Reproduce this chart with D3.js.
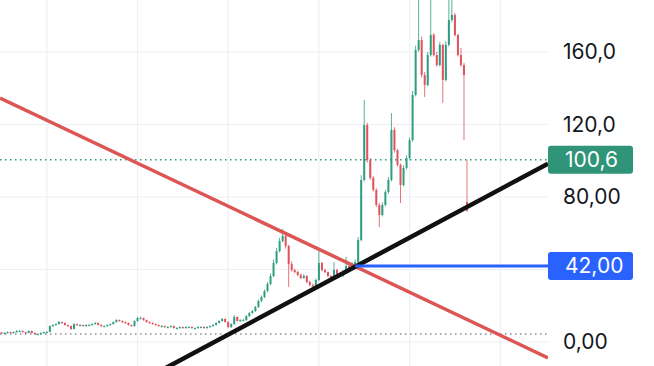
<!DOCTYPE html>
<html>
<head>
<meta charset="utf-8">
<script src="https://cdn.jsdelivr.net/npm/d3@7"></script>
<style>
  html, body { margin: 0; padding: 0; background: #fff; }
  svg { display: block; font-family: Inter, "Noto Sans", sans-serif; }
</style>
</head>
<body>
<div class="chart"></div>
<script>
// chart size
var width = 654;
var height = 366;
var plotRight = 548;

// candles, one per index
var opens = [5.3,5.0,5.0,5.5,5.0,5.5,6.1,6.1,5.5,5.0, 6.1,5.0,4.4,4.4,5.0,5.5,5.6,8.8,9.4,9.9,
  11.0,10.5,9.4,8.8,7.2,9.9,9.4,9.4,8.8,9.4, 9.4,9.9,10.5,9.4,8.8,8.8,9.4,9.9,11.0,12.1,
  11.6,11.0,10.5,9.4,8.8,11.6,13.2,13.2,12.1,11.0, 10.5,9.9,9.4,8.8,8.8,8.3,8.3,8.8,7.7,7.7,
  8.3,7.7,8.3,8.3,7.7,7.7,8.3,8.3,7.7,8.3, 8.8,9.4,10.5,11.6,12.7,11.0,8.3,9.9,13.8,11.6,
  12.1,12.1,14.3,16.0,17.1,19.3,22.6,24.8,28.1,32.0, 36.4,43.6,50.2,55.7,58.5,53.0,43.0,39.7,38.6,37.0,
  35.3,36.4,33.1,31.4,30.9,34.2,43.6,39.7,38.6,36.4, 35.3,39.7,37.5,36.4,38.6,41.9,40.8,43.0,44.1,56.3,
  89.4,119.7,100.4,90.5,83.9,75.6,70.1,75.6,82.8,89.4, 117.0,105.9,97.7,86.6,96.0,101.5,111.4,136.3,161.1,166.6,
  147.3,141.8,158.3,169.4,158.3,152.8,163.9,144.6,163.9,177.7, 180.4,169.4,158.3,152.8,77.2];

var closes = [5.0,5.0,5.5,5.0,5.5,6.1,6.1,5.5,5.0,6.1, 5.0,4.4,4.4,5.0,5.5,5.5,8.8,9.4,9.9,11.0,
  10.5,9.4,8.8,7.2,9.9,9.4,9.4,8.8,9.4,9.4, 9.9,10.5,9.4,8.8,8.8,9.4,9.9,11.0,12.1,11.6,
  11.0,10.5,9.4,8.8,11.6,13.2,13.2,12.1,11.0,10.5, 9.9,9.4,8.8,8.8,8.3,8.3,8.8,7.7,7.7,8.3,
  7.7,8.3,8.3,7.7,7.7,8.3,8.3,7.7,8.3,8.8, 9.4,10.5,11.6,12.7,11.0,8.3,9.9,13.8,11.6,12.1,
  12.1,14.3,16.0,17.1,19.3,22.6,24.8,28.1,32.0,36.4, 43.6,50.2,55.7,58.5,53.0,43.0,39.7,38.6,37.0,35.3,
  36.4,33.1,31.4,30.9,34.2,43.6,39.7,38.6,36.4,35.3, 39.7,37.5,36.4,38.6,41.9,40.8,43.0,44.1,56.3,89.4,
  119.7,100.4,90.5,83.9,75.6,70.1,75.6,82.8,89.4,117.0, 105.9,97.7,86.6,96.0,101.5,111.4,136.3,161.1,166.6,147.3,
  141.8,158.3,169.4,158.3,152.8,163.9,144.6,163.9,177.7,180.4, 169.4,158.3,152.8,147.3,72.5];

var highs = [5.6,5.4,5.8,5.7,5.8,6.5,6.5,6.3,5.6,6.4, 6.3,5.3,4.8,5.3,5.8,5.9,9.2,9.8,10.3,11.6,
  11.3,10.8,9.6,9.1,10.3,10.1,9.8,9.6,9.8,9.9, 10.3,10.9,10.8,9.7,9.2,9.7,10.2,11.4,12.6,12.4,
  11.9,11.4,10.8,9.6,11.9,13.8,14.0,13.5,12.4,11.4, 10.9,10.2,9.6,9.3,9.1,8.7,9.2,9.1,8.2,8.6,
  8.5,8.6,8.7,8.6,8.1,8.6,8.7,8.6,8.6,9.2, 9.8,10.9,12.0,13.2,13.1,11.4,10.3,14.9,14.2,12.6,
  12.9,14.8,16.5,17.6,19.9,23.4,25.6,29.0,33.2,37.8, 45.5,52.0,57.5,62.3,59.5,53.6,44.5,40.5,39.3,37.8,
  37.5,36.9,33.8,32.3,35.0,50.8,44.2,40.4,38.9,36.9, 44.1,40.5,38.0,39.5,46.9,42.8,44.0,45.5,58.0,92.0,
  133.5,121.0,101.5,91.5,84.8,76.8,77.0,84.0,91.0,126.3, 118.5,106.5,98.5,97.5,103.0,112.8,138.5,163.5,190,168.5,
  149.0,160.0,190,170.5,160.0,165.5,164.5,166.0,195,195, 181.5,170.0,162.2,154.0,100.6];

var lows = [4.7,4.6,4.8,4.7,4.8,5.2,5.7,5.2,4.6,4.8, 4.7,4.1,4.0,4.1,4.7,5.1,5.3,8.5,9.1,9.6,
  10.1,9.0,8.4,6.6,6.9,9.0,9.0,8.5,8.5,9.0, 9.1,9.6,9.1,8.4,8.5,8.5,9.1,9.6,10.7,11.3,
  10.6,10.1,9.1,8.5,8.4,11.2,12.7,11.7,10.7,10.2, 9.6,9.1,8.5,8.4,8.0,8.0,8.1,7.4,7.4,7.4,
  7.4,7.4,8.0,7.4,7.4,7.4,8.0,7.4,7.4,8.0, 8.5,9.1,10.2,11.3,10.7,7.8,7.8,9.5,11.2,11.3,
  11.6,11.7,13.8,15.5,16.6,18.8,22.0,24.2,27.5,31.3, 35.8,42.8,49.4,54.9,51.5,30.3,38.8,37.9,36.3,34.6,
  34.8,32.4,30.6,30.0,30.2,33.5,38.9,37.9,35.6,34.6, 34.9,36.8,35.6,35.8,37.9,40.0,40.2,43.0,43.5,55.5,
  88.5,99.0,89.5,83.0,74.5,63.4,69.3,74.8,81.8,88.6, 104.5,96.8,76.7,85.8,95.2,100.8,110.6,135.5,160.0,145.8,
  135.2,141.0,157.5,157.5,151.8,152.0,131.9,143.8,163.0,176.5, 168.5,157.5,151.8,111.4,71.7];

// price scale
var gridValues = [0, 40, 80, 120, 160];
var tickValues = [0, 80, 120, 160];
var tickLabels = ['0,00', '80,00', '120,0', '160,0'];
var timeGrid = [15, 45, 75, 105, 135, 165];

// drawings
var lastPrice = 100.6;
var lastPriceLabel = '100,6';
var lowLevel = 4.4;
var redLine = [[0, 134.2], [150, 15.6]];
var blackLine = [[85, 13.0], [154, 74.5]];
var blueLevel = 42.0;
var blueStart = 117;
var blueLabel = '42,00';

var candles = closes.map(function(c, i) {
  return { i: i, o: opens[i], h: highs[i], l: lows[i], c: c };
});

var x = d3.scaleLinear().domain([0, 154]).range([1.5, 467]);
var y = d3.scaleLinear().domain([0, 160]).range([342, 52]);

var svg = d3.select('.chart')
            .append('svg')
            .attr('width', width)
            .attr('height', height);

svg.append('clipPath').attr('id', 'plot')
   .append('rect').attr('x', 0).attr('y', 0).attr('width', plotRight).attr('height', height);

var plot = svg.append('g').attr('clip-path', 'url(#plot)');

// grid
plot.selectAll('.hgrid')
    .data(gridValues)
    .enter()
    .append('line')
    .attr('x1', 0).attr('x2', plotRight)
    .attr('y1', function(d) { return y(d); })
    .attr('y2', function(d) { return y(d); })
    .style('stroke', '#eef0f4')
    .style('stroke-width', 1.2);

plot.selectAll('.vgrid')
    .data(timeGrid)
    .enter()
    .append('line')
    .attr('x1', function(d) { return x(d); })
    .attr('x2', function(d) { return x(d); })
    .attr('y1', 0).attr('y2', height)
    .style('stroke', '#eef0f4')
    .style('stroke-width', 1.2);

// dotted price lines
plot.append('line')
    .attr('x1', 0).attr('x2', plotRight)
    .attr('y1', y(lowLevel)).attr('y2', y(lowLevel))
    .style('stroke', '#8a8e99')
    .style('stroke-width', 1.4)
    .style('stroke-dasharray', '1.5,3.5');

plot.append('line')
    .attr('x1', 0).attr('x2', plotRight)
    .attr('y1', y(lastPrice)).attr('y2', y(lastPrice))
    .style('stroke', '#2a9a7a')
    .style('stroke-width', 1.5)
    .style('stroke-dasharray', '1.5,3.5');

// candles
var up = '#2e9e82';
var down = '#e0525c';

var g = plot.selectAll('.candle')
            .data(candles)
            .enter()
            .append('g');

g.append('line')
 .attr('x1', function(d) { return x(d.i); })
 .attr('x2', function(d) { return x(d.i); })
 .attr('y1', function(d) { return y(d.h); })
 .attr('y2', function(d) { return y(d.l); })
 .style('stroke', function(d) { return d.c >= d.o ? up : down; })
 .style('stroke-width', 1)
 .style('opacity', 0.8);

g.append('rect')
 .attr('x', function(d) { return x(d.i) - 1; })
 .attr('width', 2)
 .attr('y', function(d) { return y(Math.max(d.o, d.c)); })
 .attr('height', function(d) { return Math.max(1.2, Math.abs(y(d.o) - y(d.c))); })
 .style('fill', function(d) { return d.c >= d.o ? up : down; });

// trend lines, stretched across the plot
function stretch(pts) {
  var slope = (pts[1][1] - pts[0][1]) / (pts[1][0] - pts[0][0]);
  var i0 = x.invert(0), i1 = x.invert(plotRight);
  return [[i0, pts[0][1] + slope * (i0 - pts[0][0])],
          [i1, pts[0][1] + slope * (i1 - pts[0][0])]];
}

var line = d3.line()
             .x(function(d) { return x(d[0]); })
             .y(function(d) { return y(d[1]); });

plot.append('path')
    .attr('d', line(stretch(redLine)))
    .style('fill', 'none')
    .style('stroke', '#dc5656')
    .style('stroke-width', 3.5);

plot.append('path')
    .attr('d', line(stretch(blackLine)))
    .style('fill', 'none')
    .style('stroke', '#111')
    .style('stroke-width', 4.5);

plot.append('line')
    .attr('x1', x(blueStart)).attr('x2', plotRight)
    .attr('y1', y(blueLevel)).attr('y2', y(blueLevel))
    .style('stroke', '#2962ff')
    .style('stroke-width', 3);

// price axis
var axis = svg.append('g')
              .attr('transform', 'translate(' + (plotRight + 15) + ',0)')
              .call(d3.axisRight(y)
                      .tickValues(tickValues)
                      .tickSize(0)
                      .tickPadding(0)
                      .tickFormat(function(d, i) { return tickLabels[i]; }));

axis.select('.domain').remove();
axis.selectAll('text')
    .style('font-family', 'Inter, "Noto Sans", sans-serif')
    .style('font-size', '21px')
    .style('fill', '#131722');

// price labels
function tag(v, text, color) {
  svg.append('rect')
     .attr('x', plotRight).attr('y', y(v) - 14)
     .attr('width', 85).attr('height', 28)
     .attr('rx', 3)
     .style('fill', color);
  svg.append('text')
     .attr('x', plotRight + 17).attr('y', y(v))
     .attr('dy', '0.35em')
     .style('font-size', '21px')
     .style('fill', '#fff')
     .text(text);
}

tag(lastPrice, lastPriceLabel, '#2f9478');
tag(blueLevel, blueLabel, '#2962ff');
</script>
</body>
</html>
